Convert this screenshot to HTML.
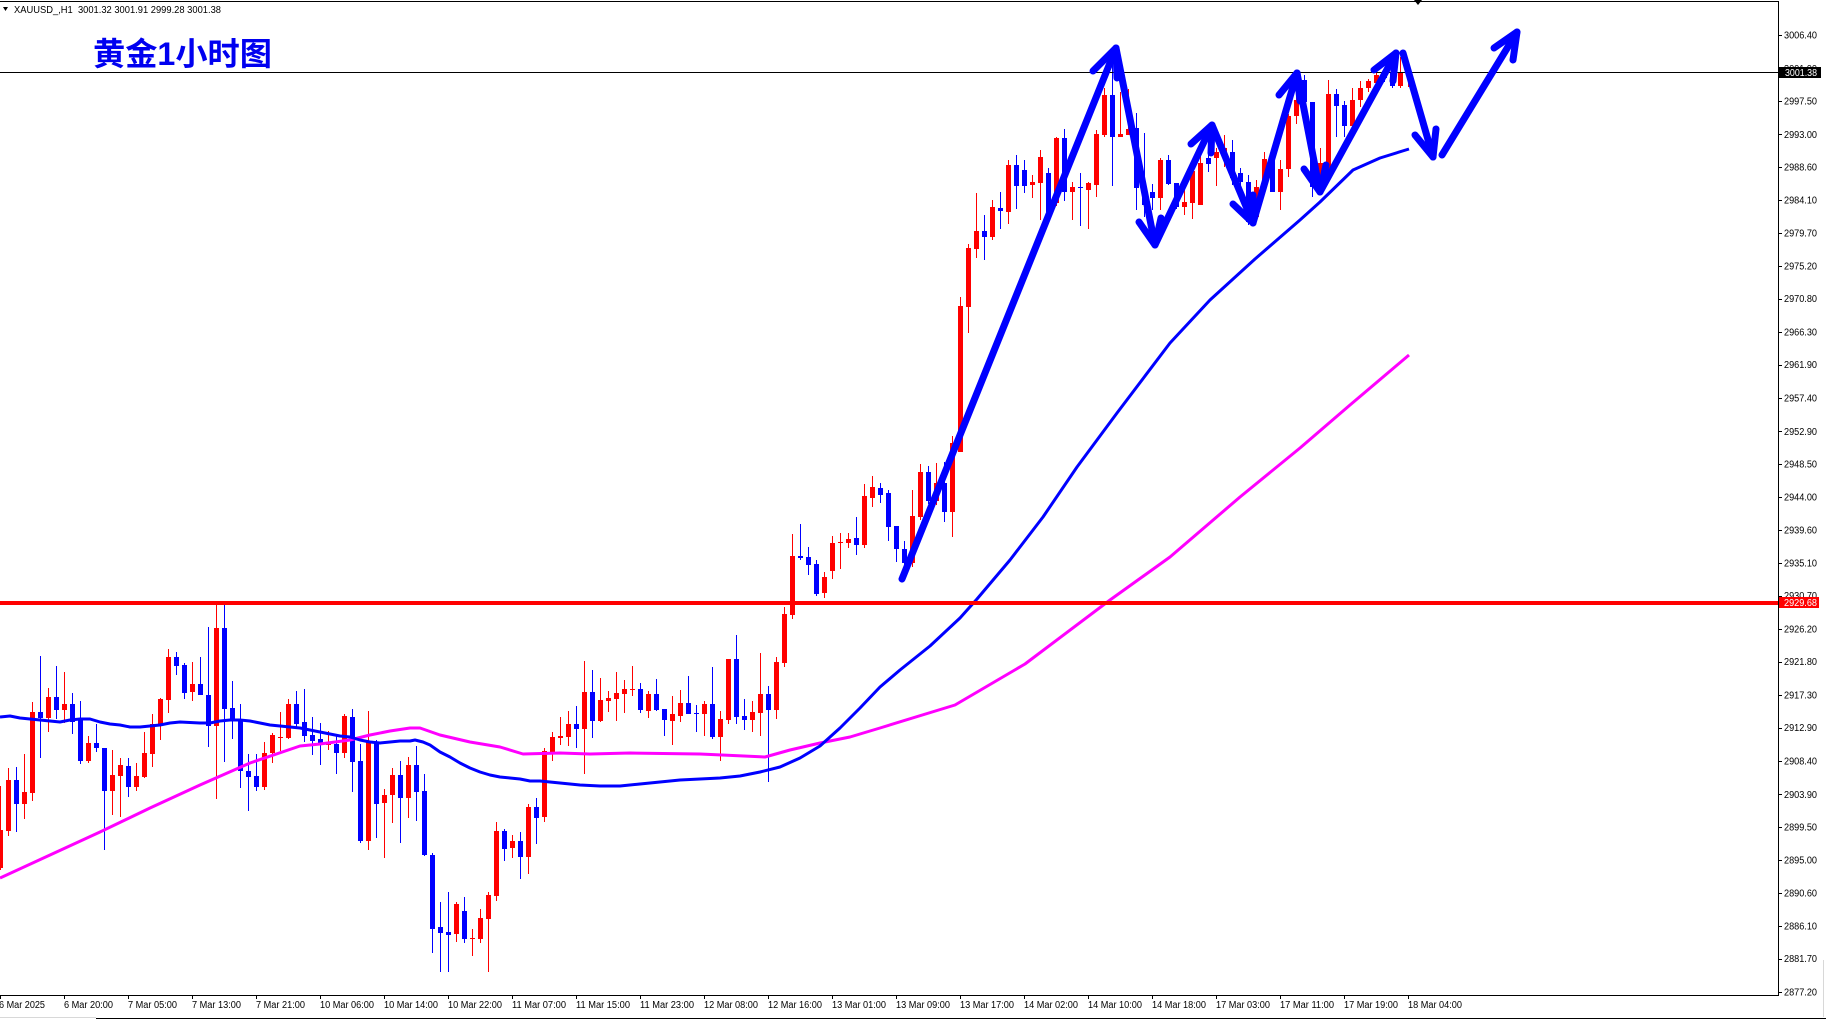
<!DOCTYPE html>
<html><head><meta charset="utf-8"><style>html,body{margin:0;padding:0;background:#fff;}svg{display:block}</style></head>
<body>
<svg xmlns="http://www.w3.org/2000/svg" width="1826" height="1019" viewBox="0 0 1826 1019">
<rect width="1826" height="1019" fill="#fff"/>
<!-- frame -->
<line x1="0" y1="1.5" x2="1778" y2="1.5" stroke="#000" stroke-width="1"/>
<line x1="1778.5" y1="1" x2="1778.5" y2="995" stroke="#000" stroke-width="1"/>
<line x1="0" y1="995.5" x2="1779" y2="995.5" stroke="#000" stroke-width="1"/>
<line x1="0" y1="1017.5" x2="96" y2="1017.5" stroke="#d8d8d8" stroke-width="1"/>
<line x1="96" y1="1018.5" x2="1826" y2="1018.5" stroke="#000" stroke-width="1"/>
<line x1="1823.5" y1="960" x2="1823.5" y2="1017" stroke="#d8d8d8" stroke-width="1"/>
<polygon points="1414,0 1422,0 1418,5" fill="#000"/>

<!-- header -->
<polygon points="3,7 8,7 5.5,11" fill="#000"/>
<text x="14" y="13" font-family="Liberation Sans, sans-serif" font-size="10" textLength="207" lengthAdjust="spacingAndGlyphs" fill="#000" xml:space="preserve">XAUUSD_,H1  3001.32 3001.91 2999.28 3001.38</text>
<text x="93" y="65" font-family="Liberation Sans, 'Noto Sans CJK SC', sans-serif" font-weight="bold" font-size="32" textLength="179" lengthAdjust="spacingAndGlyphs" fill="#0000f0">黄金1小时图</text>

<!-- wicks -->
<path fill="none" stroke="#ff0000" stroke-width="1" d="M0.5 786V870M8.5 768V836M24.5 754V819M32.5 702V801M48.5 688V732M64.5 672V723M88.5 736V763M112.5 750V815M120.5 758V817M136.5 763V791M144.5 732V778M152.5 714V767M160.5 698V740M168.5 649V713M192.5 662V701M216.5 605V799M264.5 742V790M272.5 733V763M280.5 712V751M288.5 699V739M328.5 731V750M344.5 714V758M368.5 711V850M384.5 789V858M392.5 768V823M408.5 757V818M456.5 902V942M472.5 929V956M480.5 909V943M488.5 892V972M496.5 822V901M512.5 835V858M528.5 804V874M544.5 748V822M552.5 732V761M560.5 717V745M568.5 711V746M584.5 661V774M600.5 678V722M608.5 691V712M616.5 672V721M624.5 680V713M632.5 666V696M648.5 691V718M672.5 696V745M680.5 690V722M704.5 701V736M720.5 711V761M728.5 659V724M752.5 701V732M760.5 653V736M776.5 657V719M784.5 607V667M792.5 534V619M824.5 572V598M832.5 536V579M840.5 533V569M848.5 533V548M864.5 484V548M872.5 476V507M912.5 490V567M920.5 464V520M936.5 463V505M952.5 436V537M960.5 297V452M968.5 244V333M976.5 193V258M992.5 200V240M1008.5 160V224M1032.5 175V198M1040.5 150V220M1056.5 137V206M1072.5 182V220M1088.5 182V229M1096.5 130V197M1104.5 88V137M1120.5 92V137M1128.5 89V135M1160.5 158V210M1184.5 187V215M1192.5 167V219M1200.5 152V205M1216.5 148V186M1224.5 135V167M1256.5 180V220M1264.5 152V190M1280.5 160V210M1288.5 114V177M1296.5 80V124M1320.5 148V190M1328.5 80V172M1352.5 88V130M1360.5 81V107M1368.5 79V92M1376.5 70V86M1400.5 57V88M1408.5 68V87"/>
<path fill="none" stroke="#0000ff" stroke-width="1" d="M16.5 767V832M40.5 656V758M56.5 666V719M72.5 693V734M80.5 701V764M96.5 724V752M104.5 748V850M128.5 758V797M176.5 652V675M184.5 663V699M200.5 657V695M208.5 627V747M224.5 605V762M232.5 681V739M240.5 704V788M248.5 754V811M256.5 754V791M296.5 691V729M304.5 689V742M312.5 717V755M320.5 723V765M336.5 736V774M352.5 709V792M360.5 744V843M376.5 740V838M400.5 761V843M416.5 746V821M424.5 774V856M432.5 853V953M440.5 902V972M448.5 892V972M464.5 897V943M504.5 829V861M520.5 832V879M536.5 798V844M576.5 706V748M592.5 670V738M640.5 683V713M656.5 679V711M664.5 709V736M688.5 676V714M696.5 705V732M712.5 667V739M736.5 635V724M744.5 699V730M768.5 686V782M800.5 524V560M808.5 547V575M816.5 560V596M856.5 517V555M880.5 483V503M888.5 490V541M896.5 526V562M904.5 541V567M928.5 466V504M944.5 462V522M984.5 215V260M1000.5 192V229M1016.5 155V209M1024.5 160V193M1048.5 168V215M1064.5 129V201M1080.5 173V226M1112.5 60V186M1136.5 113V210M1144.5 133V217M1152.5 184V210M1168.5 155V185M1176.5 183V209M1208.5 152V172M1232.5 140V185M1240.5 168V188M1248.5 175V225M1272.5 152V192M1304.5 75V110M1312.5 102V197M1336.5 89V137M1344.5 101V137M1384.5 70V82M1392.5 68V88"/>
<!-- bodies -->
<path fill="#ff0000" d="M-2 830h5v38h-5zM6 780h5v51h-5zM22 792h5v12h-5zM30 712h5v81h-5zM46 697h5v21h-5zM62 704h5v6h-5zM86 743h5v18h-5zM110 775h5v16h-5zM118 765h5v11h-5zM134 776h5v11h-5zM142 753h5v24h-5zM150 724h5v30h-5zM158 699h5v25h-5zM166 657h5v43h-5zM190 684h5v8h-5zM214 628h5v98h-5zM262 753h5v34h-5zM270 735h5v18h-5zM278 737h5v1h-5zM286 704h5v34h-5zM326 744h5v1h-5zM342 716h5v37h-5zM366 742h5v99h-5zM382 795h5v8h-5zM390 775h5v20h-5zM406 765h5v33h-5zM454 904h5v30h-5zM470 938h5v1h-5zM478 918h5v21h-5zM486 895h5v24h-5zM494 831h5v65h-5zM510 841h5v7h-5zM526 807h5v50h-5zM542 751h5v66h-5zM550 737h5v15h-5zM558 736h5v2h-5zM566 724h5v13h-5zM582 692h5v37h-5zM598 700h5v21h-5zM606 698h5v3h-5zM614 693h5v6h-5zM622 689h5v5h-5zM630 689h5v1h-5zM646 694h5v17h-5zM670 714h5v7h-5zM678 703h5v13h-5zM702 704h5v10h-5zM718 719h5v18h-5zM726 659h5v61h-5zM750 712h5v8h-5zM758 694h5v19h-5zM774 662h5v48h-5zM782 614h5v49h-5zM790 556h5v59h-5zM822 577h5v16h-5zM830 543h5v28h-5zM838 542h5v1h-5zM846 539h5v4h-5zM862 496h5v49h-5zM870 487h5v11h-5zM910 516h5v47h-5zM918 472h5v45h-5zM934 483h5v18h-5zM950 443h5v69h-5zM958 306h5v146h-5zM966 248h5v59h-5zM974 231h5v18h-5zM990 207h5v30h-5zM1006 165h5v47h-5zM1030 182h5v3h-5zM1038 157h5v26h-5zM1054 138h5v65h-5zM1070 187h5v5h-5zM1086 183h5v7h-5zM1094 134h5v51h-5zM1102 95h5v40h-5zM1118 134h5v3h-5zM1126 129h5v6h-5zM1158 160h5v38h-5zM1182 202h5v5h-5zM1190 171h5v32h-5zM1198 163h5v42h-5zM1214 152h5v6h-5zM1222 148h5v10h-5zM1254 187h5v30h-5zM1262 159h5v28h-5zM1278 169h5v23h-5zM1286 116h5v53h-5zM1294 100h5v16h-5zM1318 163h5v24h-5zM1326 94h5v74h-5zM1350 100h5v26h-5zM1358 88h5v12h-5zM1366 81h5v7h-5zM1374 75h5v8h-5zM1398 73h5v13h-5zM1406 72h5v4h-5z"/>
<path fill="#0000ff" d="M14 780h5v24h-5zM38 712h5v6h-5zM54 697h5v13h-5zM70 704h5v18h-5zM78 720h5v41h-5zM94 743h5v5h-5zM102 748h5v43h-5zM126 766h5v21h-5zM174 657h5v9h-5zM182 665h5v28h-5zM198 684h5v11h-5zM206 695h5v31h-5zM222 628h5v81h-5zM230 708h5v13h-5zM238 720h5v51h-5zM246 771h5v6h-5zM254 776h5v11h-5zM294 704h5v20h-5zM302 722h5v14h-5zM310 735h5v6h-5zM318 739h5v5h-5zM334 744h5v9h-5zM350 717h5v45h-5zM358 761h5v80h-5zM374 742h5v62h-5zM398 775h5v23h-5zM414 765h5v27h-5zM422 791h5v64h-5zM430 855h5v74h-5zM438 927h5v6h-5zM446 932h5v3h-5zM462 911h5v28h-5zM502 831h5v18h-5zM518 841h5v16h-5zM534 807h5v11h-5zM574 724h5v5h-5zM590 692h5v29h-5zM638 689h5v21h-5zM654 694h5v16h-5zM662 709h5v11h-5zM686 703h5v11h-5zM694 713h5v1h-5zM710 704h5v33h-5zM734 659h5v58h-5zM742 716h5v4h-5zM766 694h5v16h-5zM798 556h5v2h-5zM806 557h5v8h-5zM814 564h5v30h-5zM854 538h5v7h-5zM878 488h5v7h-5zM886 493h5v34h-5zM894 526h5v23h-5zM902 549h5v14h-5zM926 472h5v29h-5zM942 483h5v29h-5zM982 231h5v6h-5zM998 208h5v3h-5zM1014 165h5v21h-5zM1022 170h5v16h-5zM1046 173h5v39h-5zM1062 138h5v54h-5zM1078 187h5v1h-5zM1110 95h5v42h-5zM1134 128h5v60h-5zM1142 188h5v17h-5zM1150 192h5v6h-5zM1166 160h5v24h-5zM1174 183h5v24h-5zM1206 158h5v6h-5zM1230 152h5v26h-5zM1238 173h5v9h-5zM1246 182h5v40h-5zM1270 160h5v32h-5zM1302 80h5v22h-5zM1310 102h5v85h-5zM1334 94h5v12h-5zM1342 105h5v21h-5zM1382 73h5v5h-5zM1390 73h5v13h-5z"/>

<!-- moving averages -->
<polyline fill="none" stroke="#ff00ff" stroke-width="3" stroke-linejoin="round" points="0,878 50,855 100,832 150,808 200,785 250,763 300,746 320,744 350,740 370,735 390,731 410,728 420,728 440,735 470,742 500,747 523,754 560,753 590,754 630,753 700,754 765,757 790,750 820,743 850,737 880,728 955,705 1025,664 1110,600 1170,557 1240,497 1300,448 1350,405 1409,355"/>
<polyline fill="none" stroke="#0000ff" stroke-width="3" stroke-linejoin="round" points="0,717 10,716 20,718 30,719 40,720 50,721 60,722 70,720 80,719 90,719 100,722 110,724 120,725 130,727 140,727 150,726 160,725 170,723 180,722 200,723 210,723 220,721 230,720 240,720 250,721 260,723 270,725 280,726 290,727 300,728 310,730 320,732 330,734 340,736 350,737 360,740 370,742 380,743 390,742 400,741 410,741 415,740 423,742 430,745 440,752 450,757 460,763 470,768 480,772 490,775 500,777 510,778 520,779 530,781 540,781 550,782 560,783 570,784 580,785 600,786 620,786 640,784 660,782 680,780 700,779 720,778 740,776 760,772 780,767 800,758 820,746 840,728 860,708 880,687 900,670 930,646 960,618 977,599 1010,560 1043,517 1077,467 1117,413 1170,343 1210,300 1255,259 1300,220 1320,202 1353,170 1380,158 1409,149"/>

<!-- horizontal lines -->
<rect x="0" y="601" width="1778" height="4" fill="#ff0000"/>
<line x1="0" y1="72.5" x2="1778" y2="72.5" stroke="#000" stroke-width="1"/>

<!-- arrows -->
<g fill="none" stroke="#0000ff" stroke-width="7" stroke-linecap="round" stroke-linejoin="round">
<polyline points="902,579 1116,48 1155,245 1212,125 1253,223 1297,73 1320,192 1396,53"/>
<polyline points="1093,71 1116,48 1117,78"/>
<polyline points="1139,222 1155,245 1161,218"/>
<polyline points="1191,144 1212,125 1211,153"/>
<polyline points="1233,204 1253,223 1253,195"/>
<polyline points="1279,95 1297,73 1300,101"/>
<polyline points="1304,169 1320,192 1326,165"/>
<polyline points="1374,70 1396,53 1393,81"/>
<polyline points="1403,53 1433,157"/>
<polyline points="1415,135 1433,157 1436,129"/>
<polyline points="1442,155 1517,32"/>
<polyline points="1494,48 1517,32 1513,60"/>
</g>

<!-- price axis ticks -->
<path stroke="#000" stroke-width="1" d="M1779 35.5h3M1779 68.5h3M1779 101.5h3M1779 134.5h3M1779 167.5h3M1779 200.5h3M1779 233.5h3M1779 266.5h3M1779 299.5h3M1779 332.5h3M1779 365.5h3M1779 398.5h3M1779 431.5h3M1779 464.5h3M1779 497.5h3M1779 530.5h3M1779 563.5h3M1779 596.5h3M1779 629.5h3M1779 662.5h3M1779 695.5h3M1779 728.5h3M1779 761.5h3M1779 794.5h3M1779 827.5h3M1779 860.5h3M1779 893.5h3M1779 926.5h3M1779 959.5h3M1779 992.5h3"/>
<g font-family="Liberation Sans, sans-serif" font-size="10" fill="#000">
<text x="1784" y="38.5" textLength="33" lengthAdjust="spacingAndGlyphs">3006.40</text>
<text x="1784" y="71.8" textLength="33" lengthAdjust="spacingAndGlyphs">3001.90</text>
<text x="1784" y="104.4" textLength="33" lengthAdjust="spacingAndGlyphs">2997.50</text>
<text x="1784" y="137.8" textLength="33" lengthAdjust="spacingAndGlyphs">2993.00</text>
<text x="1784" y="170.3" textLength="33" lengthAdjust="spacingAndGlyphs">2988.60</text>
<text x="1784" y="203.7" textLength="33" lengthAdjust="spacingAndGlyphs">2984.10</text>
<text x="1784" y="236.3" textLength="33" lengthAdjust="spacingAndGlyphs">2979.70</text>
<text x="1784" y="269.6" textLength="33" lengthAdjust="spacingAndGlyphs">2975.20</text>
<text x="1784" y="302.2" textLength="33" lengthAdjust="spacingAndGlyphs">2970.80</text>
<text x="1784" y="335.5" textLength="33" lengthAdjust="spacingAndGlyphs">2966.30</text>
<text x="1784" y="368.1" textLength="33" lengthAdjust="spacingAndGlyphs">2961.90</text>
<text x="1784" y="401.4" textLength="33" lengthAdjust="spacingAndGlyphs">2957.40</text>
<text x="1784" y="434.8" textLength="33" lengthAdjust="spacingAndGlyphs">2952.90</text>
<text x="1784" y="467.4" textLength="33" lengthAdjust="spacingAndGlyphs">2948.50</text>
<text x="1784" y="500.7" textLength="33" lengthAdjust="spacingAndGlyphs">2944.00</text>
<text x="1784" y="533.3" textLength="33" lengthAdjust="spacingAndGlyphs">2939.60</text>
<text x="1784" y="566.6" textLength="33" lengthAdjust="spacingAndGlyphs">2935.10</text>
<text x="1784" y="599.2" textLength="33" lengthAdjust="spacingAndGlyphs">2930.70</text>
<text x="1784" y="632.6" textLength="33" lengthAdjust="spacingAndGlyphs">2926.20</text>
<text x="1784" y="665.1" textLength="33" lengthAdjust="spacingAndGlyphs">2921.80</text>
<text x="1784" y="698.5" textLength="33" lengthAdjust="spacingAndGlyphs">2917.30</text>
<text x="1784" y="731.1" textLength="33" lengthAdjust="spacingAndGlyphs">2912.90</text>
<text x="1784" y="764.4" textLength="33" lengthAdjust="spacingAndGlyphs">2908.40</text>
<text x="1784" y="797.8" textLength="33" lengthAdjust="spacingAndGlyphs">2903.90</text>
<text x="1784" y="830.3" textLength="33" lengthAdjust="spacingAndGlyphs">2899.50</text>
<text x="1784" y="863.7" textLength="33" lengthAdjust="spacingAndGlyphs">2895.00</text>
<text x="1784" y="896.3" textLength="33" lengthAdjust="spacingAndGlyphs">2890.60</text>
<text x="1784" y="929.6" textLength="33" lengthAdjust="spacingAndGlyphs">2886.10</text>
<text x="1784" y="962.2" textLength="33" lengthAdjust="spacingAndGlyphs">2881.70</text>
<text x="1784" y="995.5" textLength="33" lengthAdjust="spacingAndGlyphs">2877.20</text>
</g>
<!-- current price / level labels -->
<rect x="1779" y="67" width="42" height="11" fill="#000"/>
<text x="1785" y="76" font-family="Liberation Sans, sans-serif" font-size="10" fill="#fff" textLength="32" lengthAdjust="spacingAndGlyphs">3001.38</text>
<rect x="1779" y="597" width="40" height="11" fill="#ff0000"/>
<text x="1784" y="606" font-family="Liberation Sans, sans-serif" font-size="10" fill="#fff" textLength="33" lengthAdjust="spacingAndGlyphs">2929.68</text>

<!-- time axis ticks -->
<path stroke="#000" stroke-width="1" d="M0.5 995v4M64.5 995v4M128.5 995v4M192.5 995v4M256.5 995v4M320.5 995v4M384.5 995v4M448.5 995v4M512.5 995v4M576.5 995v4M640.5 995v4M704.5 995v4M768.5 995v4M832.5 995v4M896.5 995v4M960.5 995v4M1024.5 995v4M1088.5 995v4M1152.5 995v4M1216.5 995v4M1280.5 995v4M1344.5 995v4M1408.5 995v4"/>
<g font-family="Liberation Sans, sans-serif" font-size="10" fill="#000">
<text x="-1" y="1008" textLength="46" lengthAdjust="spacingAndGlyphs">6 Mar 2025</text>
<text x="64" y="1008" textLength="49" lengthAdjust="spacingAndGlyphs">6 Mar 20:00</text>
<text x="128" y="1008" textLength="49" lengthAdjust="spacingAndGlyphs">7 Mar 05:00</text>
<text x="192" y="1008" textLength="49" lengthAdjust="spacingAndGlyphs">7 Mar 13:00</text>
<text x="256" y="1008" textLength="49" lengthAdjust="spacingAndGlyphs">7 Mar 21:00</text>
<text x="320" y="1008" textLength="54" lengthAdjust="spacingAndGlyphs">10 Mar 06:00</text>
<text x="384" y="1008" textLength="54" lengthAdjust="spacingAndGlyphs">10 Mar 14:00</text>
<text x="448" y="1008" textLength="54" lengthAdjust="spacingAndGlyphs">10 Mar 22:00</text>
<text x="512" y="1008" textLength="54" lengthAdjust="spacingAndGlyphs">11 Mar 07:00</text>
<text x="576" y="1008" textLength="54" lengthAdjust="spacingAndGlyphs">11 Mar 15:00</text>
<text x="640" y="1008" textLength="54" lengthAdjust="spacingAndGlyphs">11 Mar 23:00</text>
<text x="704" y="1008" textLength="54" lengthAdjust="spacingAndGlyphs">12 Mar 08:00</text>
<text x="768" y="1008" textLength="54" lengthAdjust="spacingAndGlyphs">12 Mar 16:00</text>
<text x="832" y="1008" textLength="54" lengthAdjust="spacingAndGlyphs">13 Mar 01:00</text>
<text x="896" y="1008" textLength="54" lengthAdjust="spacingAndGlyphs">13 Mar 09:00</text>
<text x="960" y="1008" textLength="54" lengthAdjust="spacingAndGlyphs">13 Mar 17:00</text>
<text x="1024" y="1008" textLength="54" lengthAdjust="spacingAndGlyphs">14 Mar 02:00</text>
<text x="1088" y="1008" textLength="54" lengthAdjust="spacingAndGlyphs">14 Mar 10:00</text>
<text x="1152" y="1008" textLength="54" lengthAdjust="spacingAndGlyphs">14 Mar 18:00</text>
<text x="1216" y="1008" textLength="54" lengthAdjust="spacingAndGlyphs">17 Mar 03:00</text>
<text x="1280" y="1008" textLength="54" lengthAdjust="spacingAndGlyphs">17 Mar 11:00</text>
<text x="1344" y="1008" textLength="54" lengthAdjust="spacingAndGlyphs">17 Mar 19:00</text>
<text x="1408" y="1008" textLength="54" lengthAdjust="spacingAndGlyphs">18 Mar 04:00</text>
</g>
</svg>
</body></html>
